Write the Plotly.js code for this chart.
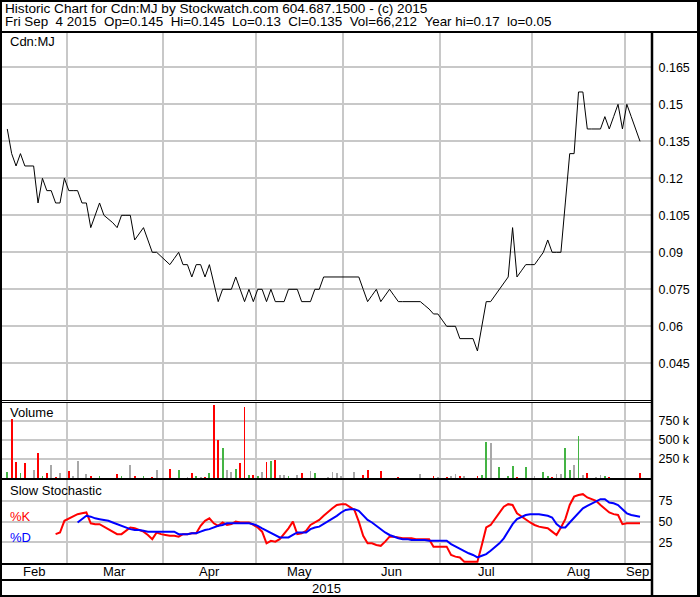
<!DOCTYPE html>
<html><head><meta charset="utf-8">
<script src="https://cdn.plot.ly/plotly-3.0.1.min.js"></script>
<style>html,body{margin:0;padding:0;background:#fff;}#chart{width:700px;height:597px;}</style>
</head><body><div id="chart"></div>
<script>
// ---- data (one value per trading day, Feb 9 .. Sep 4 2015) ----
const price = [
 0.14,0.13,0.125,0.13,0.125,0.125,0.125,0.11,0.12,0.115,
 0.115,0.11,0.11,0.12,0.115,0.115,0.115,0.11,0.11,0.10,
 0.105,0.11,0.105,0.1035,0.102,0.10,0.105,0.105,0.105,0.095,
 0.0975,0.10,0.095,0.09,0.09,0.0883,0.0867,0.085,0.0875,0.09,
 0.085,0.085,0.08,0.085,0.085,0.08,0.085,0.0775,0.07,0.075,
 0.075,0.075,0.08,0.075,0.07,0.075,0.07,0.075,0.075,0.07,
 0.075,0.07,0.07,0.07,0.075,0.075,0.075,0.07,0.07,0.07,
 0.075,0.075,0.08,0.08,0.08,0.08,0.08,0.08,0.08,0.08,
 0.08,0.075,0.07,0.0725,0.075,0.07,0.0725,0.075,0.0725,0.07,
 0.07,0.07,0.07,0.07,0.07,0.0685,0.067,0.065,0.065,0.0625,
 0.06,0.06,0.06,0.055,0.055,0.055,0.055,0.05,0.06,0.07,
 0.07,0.0725,0.075,0.0775,0.08,0.10,0.08,0.0825,0.085,0.085,
 0.085,0.0875,0.09,0.095,0.09,0.09,0.09,0.11,0.13,0.13,
 0.155,0.155,0.14,0.14,0.14,0.14,0.145,0.14,0.145,0.15,
 0.14,0.15,0.145,0.14,0.135
];
const volumeK = [
 79,776,211,66,197,0,105,333,26,66,
 171,13,66,0,92,26,224,0,53,26,
 0,26,0,0,0,53,26,0,171,26,
 0,26,0,13,105,0,0,118,0,105,
 0,13,66,26,13,13,66,960,500,395,
 105,79,118,197,934,39,39,26,79,211,
 224,237,39,39,26,0,39,66,0,92,
 66,0,0,13,79,66,26,0,0,79,
 0,39,105,0,0,92,0,0,0,13,
 0,0,0,0,53,0,0,26,13,0,
 13,26,53,26,26,0,0,26,39,474,
 461,0,145,0,26,158,13,0,145,0,
 26,0,79,26,13,53,53,395,105,171,
 553,39,66,0,13,39,26,13,0,0,
 0,0,0,0,66
];
const stochK = [
 null,null,null,null,null,null,null,null,null,null,
 null,35,37,51,54,57,59,60,61,48,
 47,47,44,41,37,35,35,39,43,42,
 40,38,34,29,37,35,34,33,33,32,
 35,35,36,36,45,51,54,48,45,49,
 46,47,50,49,49,49,46,43,38,24,
 27,26,29,35,42,50,35,36,39,46,
 49,52,57,62,66,70,71,71,68,64,
 50,33,24,24,22,21,26,32,32,31,
 30,30,30,29,29,29,29,20,20,20,
 20,10,8,7,2,2,2,2,22,43,
 46,53,60,68,71,70,60,56,52,49,
 46,44,43,42,38,34,43,53,70,80,
 82,83,79,77,75,70,66,61,59,58,
 47,48,48,48,48
];
const stochD = [
 null,null,null,null,null,null,null,null,null,null,
 null,null,null,null,null,null,49,53,57,56,
 54,53,52,51,49,47,45,43,41,40,
 40,39,38,38,38,38,38,38,38,35,
 35,35,36,36,38,40,41,43,45,46,
 48,48,48,48,48,48,47,45,42,39,
 37,33,31,31,31,34,37,37,37,41,
 43,44,47,50,53,57,61,64,65,65,
 63,57,52,49,45,40,37,34,32,30,
 29,29,28,28,28,28,27,27,27,27,
 27,23,20,17,14,12,10,7,9,11,
 15,19,24,30,38,47,53,56,58,59,
 59,59,58,57,55,47,43,43,49,55,
 61,66,69,72,75,77,77,73,72,70,
 65,60,58,57,56
];
const months = ['Feb','Mar','Apr','May','Jun','Jul','Aug','Sep'];
const monthDays = [14,22,21,20,22,21,21,4];
const priceTicks = [0.045,0.06,0.075,0.09,0.105,0.12,0.135,0.15,0.165];
const volTicksK = [250,500,750];
const stochTicks = [25,50,75];
const yearLabel = '2015';
const headerLine1 = 'Historic Chart for Cdn:MJ by Stockwatch.com 604.687.1500 - (c) 2015';
const headerLine2 = 'Fri Sep  4 2015  Op=0.145  Hi=0.145  Lo=0.13  Cl=0.135  Vol=66,212  Year hi=0.17  lo=0.05';

// ---- build ----
const W = 700, H = 597;
const px = x => x / W;
const py = y => 1 - y / H;
const FONT = 'Liberation Sans, Arial, sans-serif';
const GRID = '#c8c8c8';
const xmin = -1.2, xmax = 146.5;
const days = price.map((_, i) => i);

const volColors = price.map((p, i) => {
  if (i === 0) return '#44b444';
  if (p > price[i-1]) return '#44b444';
  if (p < price[i-1]) return '#ff0000';
  return '#a8a8a8';
});

// month boundaries & label centres
const bounds = [], labelPos = [];
let s = 0;
monthDays.forEach((n, k) => {
  const a = k === 0 ? xmin : s - 0.5;
  const b = k === monthDays.length - 1 ? xmax : s + n - 0.5;
  if (k > 0) bounds.push(s - 0.5);
  labelPos.push((a + b) / 2);
  s += n;
});

const traces = [
  {x: days, y: price, type: 'scatter', mode: 'lines', line: {color: '#000', width: 1}, xaxis: 'x', yaxis: 'y', hoverinfo: 'skip'},
  {x: days, y: volumeK.map(v => v * 1000), type: 'bar', width: 0.42, marker: {color: volColors, line: {width: 0}}, xaxis: 'x', yaxis: 'y2', hoverinfo: 'skip'},
  {x: days, y: stochK, type: 'scatter', mode: 'lines', line: {color: '#ff0000', width: 2}, xaxis: 'x', yaxis: 'y3', hoverinfo: 'skip'},
  {x: days, y: stochD, type: 'scatter', mode: 'lines', line: {color: '#0000ff', width: 2}, xaxis: 'x', yaxis: 'y3', hoverinfo: 'skip'}
];

const yCommon = {side: 'right', anchor: 'x', showgrid: true, gridcolor: GRID, gridwidth: 2, zeroline: false, showline: false,
  ticks: 'outside', ticklen: 4, tickcolor: 'rgba(0,0,0,0)', tickfont: {family: FONT, size: 12.5, color: '#000'}, fixedrange: true};

const shapes = [];
const hline = (y, x0, x1, w) => shapes.push({type: 'line', xref: 'paper', yref: 'paper', x0: px(x0), x1: px(x1), y0: py(y), y1: py(y), line: {color: '#000', width: w}});
const vline = (x, y0, y1, w) => shapes.push({type: 'line', xref: 'paper', yref: 'paper', x0: px(x), x1: px(x), y0: py(y0), y1: py(y1), line: {color: '#000', width: w}});
hline(1, 0, 700, 2);
hline(32, 0, 700, 2);
vline(1, 0, 597, 2);
vline(698.5, 0, 597, 3);
hline(596, 0, 700, 2);
vline(652, 32, 597, 2.5);
hline(400.5, 0, 652, 1);
hline(402.5, 0, 652, 1);
hline(479, 0, 652, 2);
hline(564, 0, 652, 2);
hline(580, 0, 652, 2);

const anns = [];
const ann = (text, x, y, extra) => anns.push(Object.assign({text: text, xref: 'paper', yref: 'paper', x: px(x), y: py(y), xanchor: 'left', yanchor: 'middle', showarrow: false, font: {family: FONT, size: 13, color: '#000'}}, extra || {}));
const nb = t => t.replace(/ /g, '\u00a0');
ann(nb(headerLine1), 3, 8, {font: {family: FONT, size: 13.6, color: '#000'}});
ann(nb(headerLine2), 3, 21.5, {font: {family: FONT, size: 13.4, color: '#000'}});
ann('Cdn:MJ', 8, 41);
ann('Volume', 8, 412);
ann('Slow Stochastic', 8, 490);
ann('%K', 8, 516, {font: {family: FONT, size: 13, color: '#ff0000'}});
ann('%D', 8, 537, {font: {family: FONT, size: 13, color: '#0000ff'}});
months.forEach((m, k) => anns.push({text: m, xref: 'x', yref: 'paper', x: labelPos[k], y: py(571.5), xanchor: 'center', yanchor: 'middle', showarrow: false, font: {family: FONT, size: 13, color: '#000'}}));
ann(yearLabel, 326, 588.5, {xanchor: 'center'});

const layout = {
  width: W, height: H, margin: {l: 0, r: 0, t: 0, b: 0, pad: 0},
  paper_bgcolor: '#fff', plot_bgcolor: '#fff', showlegend: false,
  font: {family: FONT, size: 13, color: '#000'},
  xaxis: {domain: [px(2), px(651)], range: [xmin, xmax], tickvals: bounds, showticklabels: false, ticks: '',
    showgrid: true, gridcolor: GRID, gridwidth: 2, zeroline: false, showline: false, anchor: 'y3', fixedrange: true},
  yaxis: Object.assign({}, yCommon, {domain: [py(400), py(33)], range: [0.030122, 0.178905], tickvals: priceTicks, ticktext: priceTicks.map(String)}),
  yaxis2: Object.assign({}, yCommon, {domain: [py(478), py(403)], range: [0, 986800], tickvals: volTicksK.map(v => v * 1000), ticktext: volTicksK.map(v => v + ' k')}),
  yaxis3: Object.assign({}, yCommon, {domain: [py(563.3), py(480)], range: [0, 100], tickvals: stochTicks, ticktext: stochTicks.map(String)}),
  shapes: shapes, annotations: anns, bargap: 0
};

Plotly.newPlot('chart', traces, layout, {staticPlot: true, displayModeBar: false});
</script>
</body></html>
